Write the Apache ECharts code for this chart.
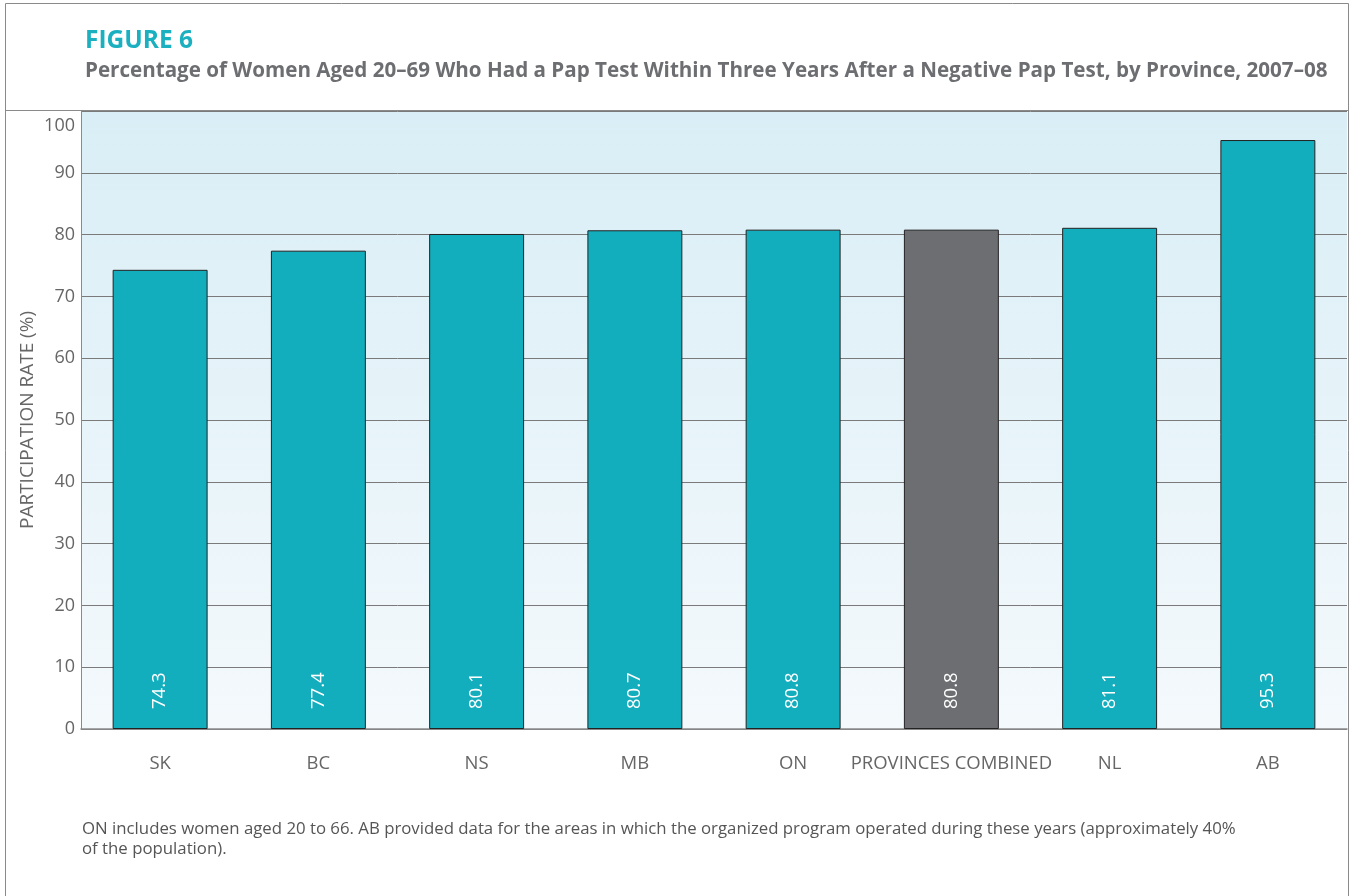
<!DOCTYPE html>
<html>
<head>
<meta charset="utf-8">
<script src="https://cdn.jsdelivr.net/npm/echarts@6/dist/echarts.min.js"></script>
<style>
  html, body { margin: 0; padding: 0; background: #ffffff; }
  #chart { width: 1351px; height: 896px; }
</style>
</head>
<body>
<div id="chart"></div>
<script>
// Provinces, in the order shown
const categories = ['SK', 'BC', 'NS', 'MB', 'ON', 'PROVINCES COMBINED', 'NL', 'AB'];
// Participation rate (%) per province
const rates = [74.3, 77.4, 80.1, 80.7, 80.8, 80.8, 81.1, 95.3];
// Which category is the all-provinces aggregate
const combinedLabel = 'PROVINCES COMBINED';

const TEAL = '#13aebd';
const GREY = '#6d6e71';
const FONT = '"Open Sans", "Noto Sans", sans-serif';

const chart = echarts.init(document.getElementById('chart'), null, { renderer: 'canvas' });

chart.setOption({
  animation: false,
  textStyle: { fontFamily: FONT },
  graphic: [
    // outer frame and header separator
    { type: 'rect', shape: { x: 5.5, y: 3.5, width: 1343, height: 900 }, style: { fill: 'none', stroke: '#8a8a8a', lineWidth: 1 }, z: 0 },
    { type: 'line', shape: { x1: 5, y1: 110.5, x2: 1349, y2: 110.5 }, style: { stroke: '#8a8a8a', lineWidth: 1 }, z: 0 },
    { type: 'text', left: 85, top: 29, style: { text: 'FIGURE 6', fill: '#1ab0c0', font: 'bold 24.5px ' + FONT } },
    { type: 'text', left: 85, top: 61, style: { text: 'Percentage of Women Aged 20\u201369 Who Had a Pap Test Within Three Years After a Negative Pap Test, by Province, 2007\u201308', fill: '#6d6e71', font: 'bold 20.6px ' + FONT } },
    { type: 'text', left: 82, top: 819, style: { text: 'ON includes women aged 20 to 66. AB provided data for the areas in which the organized program operated during these years (approximately 40%\nof the population).', fill: '#555555', font: '16.8px ' + FONT, lineHeight: 20 } }
  ],
  grid: {
    left: 81, right: 4, top: 111, bottom: 167,
    show: true,
    borderWidth: 0,
    backgroundColor: new echarts.graphic.LinearGradient(0, 0, 0, 1, [
      { offset: 0, color: '#d9eef6' },
      { offset: 1, color: '#f4f9fc' }
    ])
  },
  xAxis: {
    type: 'category',
    data: categories,
    axisLine: { lineStyle: { color: '#8a8a8a', width: 1.5 } },
    axisTick: { show: false },
    axisLabel: { color: '#666666', fontSize: 18.5, margin: 25, interval: 0, fontFamily: FONT }
  },
  yAxis: {
    type: 'value',
    min: 0, max: 100, interval: 10,
    name: 'PARTICIPATION RATE (%)',
    nameLocation: 'middle',
    nameGap: 44,
    nameMoveOverlap: false,
    nameTextStyle: { color: '#666666', fontSize: 19, fontFamily: FONT },
    axisLine: { show: true, lineStyle: { color: '#8a8a8a', width: 1 } },
    axisTick: { show: false },
    axisLabel: {
      color: '#666666', fontSize: 18, margin: 6, fontFamily: FONT,
      // the top tick label sits just inside the plot instead of on its line
      formatter: v => (v === 100 ? '{top|' + v + '}' : String(v)),
      rich: { top: { fontSize: 18, color: '#666666', fontFamily: FONT, padding: [30, 0, 0, 0] } }
    },
    splitLine: { lineStyle: { color: '#7a7a7a', width: 1 } }
  },
  series: [{
    type: 'bar',
    barCategoryGap: '40%',
    data: rates.map((v, i) => ({
      value: v,
      itemStyle: { color: categories[i] === combinedLabel ? GREY : TEAL }
    })),
    itemStyle: { borderColor: '#222222', borderWidth: 1 },
    label: {
      show: true,
      position: 'insideBottom',
      rotate: 90,
      align: 'left',
      verticalAlign: 'middle',
      distance: 20,
      color: '#ffffff',
      fontSize: 18.5,
      fontFamily: FONT,
      formatter: p => p.value.toFixed(1)
    }
  }]
});
</script>
</body>
</html>
